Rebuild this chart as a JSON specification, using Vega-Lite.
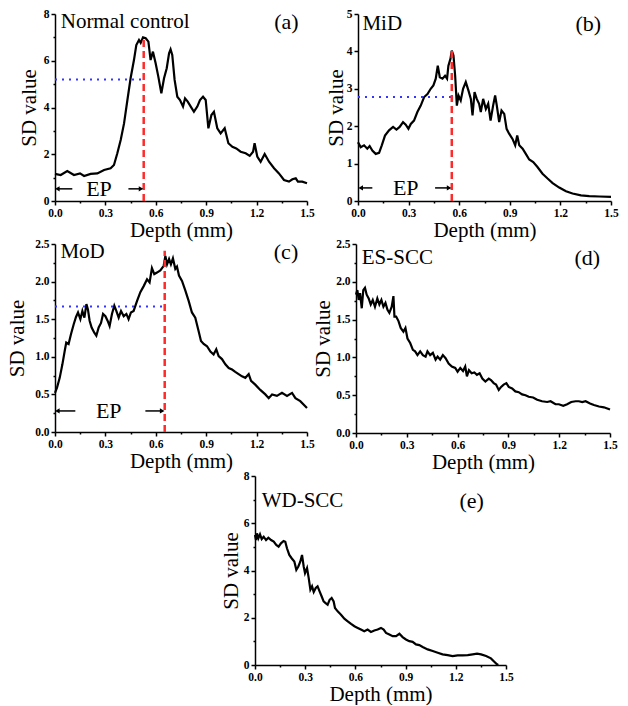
{
  "$schema": "https://vega.github.io/schema/vega-lite/v6.json",
  "padding": {"left": 6, "top": 8, "right": 0, "bottom": 0},
  "background": "white",
  "config": {
    "view": {"stroke": null},
    "font": "Liberation Serif",
    "axis": {
      "labelFont": "Liberation Serif", "labelFontWeight": "bold", "labelFontSize": 11.5, "labelColor": "black",
      "titleFont": "Liberation Serif", "titleFontWeight": "normal", "titleFontSize": 21, "titleColor": "black",
      "domainColor": "black", "domainWidth": 1.5, "tickColor": "black", "tickWidth": 1.5,
      "grid": false, "labelPadding": 2, "labelFlush": false, "labelOverlap": false
    },
    "axisX": {"titlePadding": 1},
    "text": {"font": "Liberation Serif", "fontSize": 21, "color": "black"}
  },
  "datasets": {
    "a": [
      {"x":0,"y":1.16},{"x":0.034,"y":1.11},{"x":0.073,"y":1.28},{"x":0.113,"y":1.11},{"x":0.149,"y":1.18},{"x":0.173,"y":1.07},{"x":0.212,"y":1.16},{"x":0.252,"y":1.18},{"x":0.292,"y":1.33},{"x":0.331,"y":1.4},{"x":0.351,"y":1.54},{"x":0.371,"y":2.04},{"x":0.391,"y":2.61},{"x":0.411,"y":3.32},{"x":0.431,"y":4.32},{"x":0.45,"y":5.25},{"x":0.47,"y":6.03},{"x":0.484,"y":6.67},{"x":0.5,"y":6.89},{"x":0.51,"y":6.77},{"x":0.524,"y":7.0},{"x":0.54,"y":6.96},{"x":0.556,"y":6.82},{"x":0.569,"y":6.03},{"x":0.583,"y":6.39},{"x":0.599,"y":5.89},{"x":0.615,"y":5.32},{"x":0.633,"y":4.61},{"x":0.649,"y":5.25},{"x":0.665,"y":5.68},{"x":0.679,"y":6.32},{"x":0.688,"y":6.49},{"x":0.698,"y":6.25},{"x":0.712,"y":5.18},{"x":0.728,"y":4.46},{"x":0.744,"y":4.32},{"x":0.762,"y":4.04},{"x":0.774,"y":4.39},{"x":0.79,"y":4.25},{"x":0.808,"y":4.04},{"x":0.827,"y":3.82},{"x":0.847,"y":4.04},{"x":0.863,"y":4.32},{"x":0.881,"y":4.46},{"x":0.897,"y":4.32},{"x":0.913,"y":3.11},{"x":0.931,"y":3.68},{"x":0.946,"y":3.82},{"x":0.966,"y":3.11},{"x":0.986,"y":2.89},{"x":1.01,"y":3.11},{"x":1.032,"y":2.47},{"x":1.056,"y":2.32},{"x":1.079,"y":2.25},{"x":1.105,"y":2.11},{"x":1.135,"y":2.04},{"x":1.159,"y":1.93},{"x":1.179,"y":2.11},{"x":1.188,"y":2.47},{"x":1.204,"y":1.9},{"x":1.224,"y":1.68},{"x":1.248,"y":2.01},{"x":1.274,"y":1.68},{"x":1.304,"y":1.4},{"x":1.333,"y":1.18},{"x":1.363,"y":0.9},{"x":1.393,"y":0.83},{"x":1.413,"y":0.93},{"x":1.433,"y":0.97},{"x":1.446,"y":0.83},{"x":1.472,"y":0.83},{"x":1.5,"y":0.76}
    ],
    "b": [
      {"x":0,"y":1.57},{"x":0.016,"y":1.44},{"x":0.036,"y":1.49},{"x":0.055,"y":1.4},{"x":0.069,"y":1.47},{"x":0.085,"y":1.35},{"x":0.105,"y":1.26},{"x":0.125,"y":1.29},{"x":0.141,"y":1.49},{"x":0.16,"y":1.75},{"x":0.184,"y":1.89},{"x":0.208,"y":1.98},{"x":0.228,"y":1.91},{"x":0.247,"y":1.98},{"x":0.267,"y":2.11},{"x":0.283,"y":2.04},{"x":0.299,"y":1.93},{"x":0.313,"y":2.06},{"x":0.332,"y":2.15},{"x":0.352,"y":2.38},{"x":0.372,"y":2.55},{"x":0.392,"y":2.78},{"x":0.412,"y":2.86},{"x":0.431,"y":3.0},{"x":0.447,"y":3.09},{"x":0.461,"y":3.27},{"x":0.473,"y":3.62},{"x":0.485,"y":3.31},{"x":0.501,"y":3.27},{"x":0.516,"y":3.35},{"x":0.528,"y":3.27},{"x":0.536,"y":3.62},{"x":0.548,"y":3.8},{"x":0.556,"y":4.02},{"x":0.566,"y":3.89},{"x":0.576,"y":3.35},{"x":0.586,"y":2.55},{"x":0.596,"y":2.82},{"x":0.609,"y":2.69},{"x":0.623,"y":3.0},{"x":0.639,"y":3.18},{"x":0.655,"y":2.95},{"x":0.669,"y":2.73},{"x":0.679,"y":2.29},{"x":0.691,"y":2.91},{"x":0.704,"y":2.73},{"x":0.718,"y":2.6},{"x":0.728,"y":2.38},{"x":0.742,"y":2.73},{"x":0.758,"y":2.46},{"x":0.772,"y":2.6},{"x":0.786,"y":2.15},{"x":0.801,"y":2.55},{"x":0.813,"y":2.82},{"x":0.823,"y":2.55},{"x":0.837,"y":2.11},{"x":0.851,"y":2.42},{"x":0.867,"y":2.33},{"x":0.881,"y":1.93},{"x":0.896,"y":1.8},{"x":0.916,"y":1.66},{"x":0.932,"y":1.49},{"x":0.944,"y":1.75},{"x":0.956,"y":1.49},{"x":0.976,"y":1.4},{"x":0.995,"y":1.26},{"x":1.015,"y":1.11},{"x":1.039,"y":1.04},{"x":1.064,"y":0.91},{"x":1.094,"y":0.73},{"x":1.124,"y":0.6},{"x":1.154,"y":0.48},{"x":1.193,"y":0.36},{"x":1.233,"y":0.26},{"x":1.272,"y":0.2},{"x":1.322,"y":0.15},{"x":1.371,"y":0.13},{"x":1.431,"y":0.12},{"x":1.5,"y":0.11}
    ],
    "c": [
      {"x":0,"y":0.52},{"x":0.012,"y":0.59},{"x":0.028,"y":0.72},{"x":0.044,"y":0.9},{"x":0.058,"y":1.08},{"x":0.067,"y":1.19},{"x":0.081,"y":1.17},{"x":0.095,"y":1.3},{"x":0.111,"y":1.43},{"x":0.125,"y":1.53},{"x":0.137,"y":1.59},{"x":0.151,"y":1.5},{"x":0.163,"y":1.61},{"x":0.175,"y":1.52},{"x":0.187,"y":1.7},{"x":0.196,"y":1.63},{"x":0.206,"y":1.48},{"x":0.218,"y":1.39},{"x":0.234,"y":1.32},{"x":0.246,"y":1.28},{"x":0.26,"y":1.39},{"x":0.274,"y":1.45},{"x":0.286,"y":1.57},{"x":0.3,"y":1.54},{"x":0.313,"y":1.48},{"x":0.325,"y":1.41},{"x":0.339,"y":1.57},{"x":0.353,"y":1.68},{"x":0.365,"y":1.61},{"x":0.379,"y":1.52},{"x":0.393,"y":1.61},{"x":0.409,"y":1.54},{"x":0.425,"y":1.57},{"x":0.438,"y":1.5},{"x":0.452,"y":1.59},{"x":0.468,"y":1.61},{"x":0.488,"y":1.74},{"x":0.508,"y":1.86},{"x":0.528,"y":1.94},{"x":0.548,"y":2.03},{"x":0.563,"y":1.99},{"x":0.577,"y":2.18},{"x":0.591,"y":2.1},{"x":0.607,"y":2.12},{"x":0.627,"y":2.15},{"x":0.647,"y":2.21},{"x":0.657,"y":2.34},{"x":0.667,"y":2.23},{"x":0.679,"y":2.3},{"x":0.69,"y":2.23},{"x":0.702,"y":2.31},{"x":0.716,"y":2.17},{"x":0.726,"y":2.2},{"x":0.738,"y":2.08},{"x":0.756,"y":2.01},{"x":0.776,"y":1.88},{"x":0.796,"y":1.74},{"x":0.815,"y":1.59},{"x":0.835,"y":1.52},{"x":0.855,"y":1.34},{"x":0.869,"y":1.21},{"x":0.885,"y":1.17},{"x":0.905,"y":1.14},{"x":0.925,"y":1.07},{"x":0.944,"y":1.03},{"x":0.96,"y":1.1},{"x":0.974,"y":1.01},{"x":0.994,"y":0.97},{"x":1.014,"y":0.9},{"x":1.034,"y":0.85},{"x":1.054,"y":0.83},{"x":1.073,"y":0.8},{"x":1.093,"y":0.77},{"x":1.113,"y":0.74},{"x":1.133,"y":0.72},{"x":1.153,"y":0.77},{"x":1.167,"y":0.68},{"x":1.192,"y":0.63},{"x":1.222,"y":0.56},{"x":1.252,"y":0.5},{"x":1.272,"y":0.45},{"x":1.292,"y":0.5},{"x":1.321,"y":0.48},{"x":1.351,"y":0.52},{"x":1.381,"y":0.48},{"x":1.411,"y":0.52},{"x":1.431,"y":0.45},{"x":1.46,"y":0.41},{"x":1.5,"y":0.32}
    ],
    "d": [
      {"x":0,"y":1.83},{"x":0.008,"y":1.89},{"x":0.016,"y":1.76},{"x":0.024,"y":1.85},{"x":0.034,"y":1.65},{"x":0.043,"y":1.89},{"x":0.053,"y":1.92},{"x":0.063,"y":1.83},{"x":0.075,"y":1.78},{"x":0.087,"y":1.7},{"x":0.099,"y":1.76},{"x":0.112,"y":1.67},{"x":0.126,"y":1.78},{"x":0.138,"y":1.7},{"x":0.15,"y":1.76},{"x":0.162,"y":1.67},{"x":0.174,"y":1.72},{"x":0.186,"y":1.63},{"x":0.197,"y":1.59},{"x":0.211,"y":1.67},{"x":0.221,"y":1.81},{"x":0.227,"y":1.54},{"x":0.237,"y":1.54},{"x":0.251,"y":1.48},{"x":0.264,"y":1.39},{"x":0.28,"y":1.34},{"x":0.292,"y":1.39},{"x":0.304,"y":1.25},{"x":0.32,"y":1.19},{"x":0.336,"y":1.1},{"x":0.349,"y":1.08},{"x":0.363,"y":1.03},{"x":0.379,"y":1.08},{"x":0.395,"y":1.03},{"x":0.411,"y":1.01},{"x":0.422,"y":1.08},{"x":0.438,"y":1.03},{"x":0.454,"y":1.06},{"x":0.47,"y":0.97},{"x":0.482,"y":1.01},{"x":0.497,"y":0.97},{"x":0.513,"y":1.03},{"x":0.529,"y":0.99},{"x":0.547,"y":0.92},{"x":0.566,"y":0.88},{"x":0.586,"y":0.86},{"x":0.6,"y":0.81},{"x":0.616,"y":0.86},{"x":0.632,"y":0.82},{"x":0.645,"y":0.88},{"x":0.655,"y":0.75},{"x":0.667,"y":0.83},{"x":0.683,"y":0.79},{"x":0.699,"y":0.8},{"x":0.714,"y":0.77},{"x":0.73,"y":0.79},{"x":0.746,"y":0.72},{"x":0.764,"y":0.68},{"x":0.784,"y":0.72},{"x":0.797,"y":0.7},{"x":0.813,"y":0.66},{"x":0.827,"y":0.64},{"x":0.843,"y":0.57},{"x":0.857,"y":0.61},{"x":0.872,"y":0.64},{"x":0.888,"y":0.66},{"x":0.902,"y":0.61},{"x":0.922,"y":0.59},{"x":0.941,"y":0.55},{"x":0.961,"y":0.54},{"x":0.981,"y":0.51},{"x":1.001,"y":0.5},{"x":1.02,"y":0.48},{"x":1.046,"y":0.47},{"x":1.07,"y":0.44},{"x":1.099,"y":0.42},{"x":1.129,"y":0.41},{"x":1.149,"y":0.42},{"x":1.178,"y":0.38},{"x":1.198,"y":0.38},{"x":1.224,"y":0.36},{"x":1.247,"y":0.38},{"x":1.271,"y":0.41},{"x":1.297,"y":0.42},{"x":1.316,"y":0.42},{"x":1.336,"y":0.41},{"x":1.356,"y":0.42},{"x":1.382,"y":0.39},{"x":1.405,"y":0.37},{"x":1.435,"y":0.35},{"x":1.464,"y":0.34},{"x":1.5,"y":0.31}
    ],
    "e": [
      {"x":0,"y":5.5},{"x":0.006,"y":5.29},{"x":0.012,"y":5.57},{"x":0.02,"y":5.36},{"x":0.03,"y":5.53},{"x":0.04,"y":5.33},{"x":0.052,"y":5.43},{"x":0.066,"y":5.29},{"x":0.08,"y":5.39},{"x":0.096,"y":5.29},{"x":0.112,"y":5.22},{"x":0.127,"y":5.08},{"x":0.141,"y":5.01},{"x":0.155,"y":5.15},{"x":0.171,"y":5.25},{"x":0.181,"y":5.22},{"x":0.191,"y":4.94},{"x":0.205,"y":4.66},{"x":0.219,"y":4.52},{"x":0.235,"y":4.38},{"x":0.247,"y":4.03},{"x":0.259,"y":4.17},{"x":0.271,"y":4.38},{"x":0.281,"y":4.66},{"x":0.291,"y":4.17},{"x":0.299,"y":3.89},{"x":0.311,"y":4.1},{"x":0.321,"y":3.68},{"x":0.331,"y":3.19},{"x":0.341,"y":3.33},{"x":0.351,"y":3.09},{"x":0.363,"y":3.26},{"x":0.374,"y":3.33},{"x":0.386,"y":3.12},{"x":0.398,"y":2.91},{"x":0.41,"y":2.69},{"x":0.422,"y":2.62},{"x":0.434,"y":2.55},{"x":0.446,"y":2.76},{"x":0.458,"y":2.84},{"x":0.47,"y":2.69},{"x":0.478,"y":2.41},{"x":0.494,"y":2.27},{"x":0.514,"y":2.13},{"x":0.534,"y":1.96},{"x":0.554,"y":1.85},{"x":0.574,"y":1.74},{"x":0.594,"y":1.64},{"x":0.614,"y":1.57},{"x":0.633,"y":1.5},{"x":0.653,"y":1.43},{"x":0.673,"y":1.5},{"x":0.693,"y":1.4},{"x":0.713,"y":1.46},{"x":0.733,"y":1.5},{"x":0.753,"y":1.57},{"x":0.769,"y":1.5},{"x":0.783,"y":1.36},{"x":0.803,"y":1.29},{"x":0.823,"y":1.22},{"x":0.843,"y":1.22},{"x":0.863,"y":1.32},{"x":0.882,"y":1.18},{"x":0.902,"y":1.08},{"x":0.922,"y":1.01},{"x":0.942,"y":0.98},{"x":0.962,"y":0.87},{"x":0.982,"y":0.84},{"x":1.002,"y":0.76},{"x":1.032,"y":0.66},{"x":1.062,"y":0.59},{"x":1.092,"y":0.52},{"x":1.121,"y":0.45},{"x":1.151,"y":0.42},{"x":1.181,"y":0.38},{"x":1.211,"y":0.41},{"x":1.241,"y":0.41},{"x":1.271,"y":0.42},{"x":1.301,"y":0.45},{"x":1.327,"y":0.48},{"x":1.351,"y":0.45},{"x":1.381,"y":0.38},{"x":1.41,"y":0.28},{"x":1.43,"y":0.14},{"x":1.446,"y":0.03},{"x":1.454,"y":0.0}
    ]
  },
  "spacing": -3,
  "vconcat": [
    {
      "bounds": "flush",
      "spacing": 51,
      "hconcat": [
        {
          "width": 252, "height": 187,
          "encoding": {
            "x": {"field": "x", "type": "quantitative", "scale": {"domain": [0, 1.5], "nice": false},
              "axis": {"title": "Depth (mm)", "values": [0,0.15,0.3,0.45,0.6,0.75,0.9,1.05,1.2,1.35,1.5], "format": ".1f",
                "labelExpr": "round(datum.value*100) % 30 === 0 ? datum.label : ''",
                "tickSize": {"condition": {"test": "round(datum.value*100) % 30 !== 0", "value": 2}, "value": 4}}},
            "y": {"field": "y", "type": "quantitative", "scale": {"domain": [0, 8], "nice": false},
              "axis": {"title": "SD value", "titleX": -26, "titleBaseline": "middle", "values": [0,1,2,3,4,5,6,7,8], "format": "d",
                "labelExpr": "datum.value % 2 === 0 ? datum.label : ''",
                "tickSize": {"condition": {"test": "datum.value % 2 !== 0", "value": 2}, "value": 4}}}
          },
          "layer": [
            {"data": {"name": "a"}, "mark": {"type": "line", "color": "black", "strokeWidth": 2.2}},
            {"data": {"values": [{"x": 0, "x2": 0.528, "y": 5.2}]}, "mark": {"type": "rule", "color": "#3535ff", "strokeWidth": 2, "strokeDash": [2, 5]}, "encoding": {"x2": {"field": "x2"}}},
            {"data": {"values": [{"x": 0.528, "y": 0, "y2": 7.05}]}, "mark": {"type": "rule", "color": "#ff2a2a", "strokeWidth": 2.5, "strokeDash": [7, 4]}, "encoding": {"y2": {"field": "y2"}}},
            {"data": {"values": [{"x": 0.012, "x2": 0.103, "y": 0.52}, {"x": 0.437, "x2": 0.515, "y": 0.52}]}, "mark": {"type": "rule", "color": "black", "strokeWidth": 1.5}, "encoding": {"x2": {"field": "x2"}}},
            {"data": {"values": [{"x": 0.014, "y": 0.52, "s": "triangle-left"}, {"x": 0.512, "y": 0.52, "s": "triangle-right"}]}, "mark": {"type": "point", "filled": true, "color": "black", "size": 28, "opacity": 1}, "encoding": {"shape": {"field": "s", "type": "nominal", "scale": null}}},
            {"data": {"values": [{"x": 0.262, "y": 0.52, "t": "EP"}, {"x": 1.377, "y": 7.64, "t": "(a)"}]}, "mark": {"type": "text", "fontSize": 22, "align": "center", "baseline": "middle"}, "encoding": {"text": {"field": "t"}}},
            {"data": {"values": [{"x": 0.034, "y": 7.64, "t": "Normal control"}]}, "mark": {"type": "text", "fontSize": 21, "align": "left", "baseline": "middle"}, "encoding": {"text": {"field": "t"}}}
          ]
        },
        {
          "width": 253, "height": 187,
          "encoding": {
            "x": {"field": "x", "type": "quantitative", "scale": {"domain": [0, 1.5], "nice": false},
              "axis": {"title": "Depth (mm)", "values": [0,0.15,0.3,0.45,0.6,0.75,0.9,1.05,1.2,1.35,1.5], "format": ".1f",
                "labelExpr": "round(datum.value*100) % 30 === 0 ? datum.label : ''",
                "tickSize": {"condition": {"test": "round(datum.value*100) % 30 !== 0", "value": 2}, "value": 4}}},
            "y": {"field": "y", "type": "quantitative", "scale": {"domain": [0, 5], "nice": false},
              "axis": {"title": "SD value", "titleX": -22, "titleBaseline": "middle", "values": [0,0.5,1,1.5,2,2.5,3,3.5,4,4.5,5], "format": "d",
                "labelExpr": "datum.value % 1 === 0 ? datum.label : ''",
                "tickSize": {"condition": {"test": "datum.value % 1 !== 0", "value": 2}, "value": 4}}}
          },
          "layer": [
            {"data": {"name": "b"}, "mark": {"type": "line", "color": "black", "strokeWidth": 2.2}},
            {"data": {"values": [{"x": 0, "x2": 0.556, "y": 2.78}]}, "mark": {"type": "rule", "color": "#3535ff", "strokeWidth": 2, "strokeDash": [2, 5]}, "encoding": {"x2": {"field": "x2"}}},
            {"data": {"values": [{"x": 0.556, "y": 0, "y2": 4.07}]}, "mark": {"type": "rule", "color": "#ff2a2a", "strokeWidth": 2.5, "strokeDash": [7, 4]}, "encoding": {"y2": {"field": "y2"}}},
            {"data": {"values": [{"x": 0.014, "x2": 0.085, "y": 0.35}, {"x": 0.457, "x2": 0.543, "y": 0.35}]}, "mark": {"type": "rule", "color": "black", "strokeWidth": 1.5}, "encoding": {"x2": {"field": "x2"}}},
            {"data": {"values": [{"x": 0.016, "y": 0.35, "s": "triangle-left"}, {"x": 0.54, "y": 0.35, "s": "triangle-right"}]}, "mark": {"type": "point", "filled": true, "color": "black", "size": 28, "opacity": 1}, "encoding": {"shape": {"field": "s", "type": "nominal", "scale": null}}},
            {"data": {"values": [{"x": 0.283, "y": 0.35, "t": "EP"}, {"x": 1.365, "y": 4.73, "t": "(b)"}]}, "mark": {"type": "text", "fontSize": 22, "align": "center", "baseline": "middle"}, "encoding": {"text": {"field": "t"}}},
            {"data": {"values": [{"x": 0.026, "y": 4.73, "t": "MiD"}]}, "mark": {"type": "text", "fontSize": 21, "align": "left", "baseline": "middle"}, "encoding": {"text": {"field": "t"}}}
          ]
        }
      ]
    },
    {
      "bounds": "flush",
      "spacing": 49,
      "hconcat": [
        {
          "width": 252, "height": 188,
          "encoding": {
            "x": {"field": "x", "type": "quantitative", "scale": {"domain": [0, 1.5], "nice": false},
              "axis": {"title": "Depth (mm)", "values": [0,0.15,0.3,0.45,0.6,0.75,0.9,1.05,1.2,1.35,1.5], "format": ".1f",
                "labelExpr": "round(datum.value*100) % 30 === 0 ? datum.label : ''",
                "tickSize": {"condition": {"test": "round(datum.value*100) % 30 !== 0", "value": 2}, "value": 4}}},
            "y": {"field": "y", "type": "quantitative", "scale": {"domain": [0, 2.5], "nice": false},
              "axis": {"title": "SD value", "titleX": -38, "titleBaseline": "middle", "values": [0,0.25,0.5,0.75,1,1.25,1.5,1.75,2,2.25,2.5], "format": ".1f",
                "labelExpr": "round(datum.value*100) % 50 === 0 ? datum.label : ''",
                "tickSize": {"condition": {"test": "round(datum.value*100) % 50 !== 0", "value": 2}, "value": 4}}}
          },
          "layer": [
            {"data": {"name": "c"}, "mark": {"type": "line", "color": "black", "strokeWidth": 2.2}},
            {"data": {"values": [{"x": 0, "x2": 0.653, "y": 1.67}]}, "mark": {"type": "rule", "color": "#3535ff", "strokeWidth": 2, "strokeDash": [2, 5]}, "encoding": {"x2": {"field": "x2"}}},
            {"data": {"values": [{"x": 0.653, "y": 0, "y2": 2.41}]}, "mark": {"type": "rule", "color": "#ff2a2a", "strokeWidth": 2.5, "strokeDash": [7, 4]}, "encoding": {"y2": {"field": "y2"}}},
            {"data": {"values": [{"x": 0.012, "x2": 0.121, "y": 0.28}, {"x": 0.538, "x2": 0.64, "y": 0.28}]}, "mark": {"type": "rule", "color": "black", "strokeWidth": 1.5}, "encoding": {"x2": {"field": "x2"}}},
            {"data": {"values": [{"x": 0.014, "y": 0.28, "s": "triangle-left"}, {"x": 0.638, "y": 0.28, "s": "triangle-right"}]}, "mark": {"type": "point", "filled": true, "color": "black", "size": 28, "opacity": 1}, "encoding": {"shape": {"field": "s", "type": "nominal", "scale": null}}},
            {"data": {"values": [{"x": 0.32, "y": 0.28, "t": "EP"}, {"x": 1.375, "y": 2.39, "t": "(c)"}]}, "mark": {"type": "text", "fontSize": 22, "align": "center", "baseline": "middle"}, "encoding": {"text": {"field": "t"}}},
            {"data": {"values": [{"x": 0.032, "y": 2.39, "t": "MoD"}]}, "mark": {"type": "text", "fontSize": 21, "align": "left", "baseline": "middle"}, "encoding": {"text": {"field": "t"}}}
          ]
        },
        {
          "width": 254, "height": 189,
          "encoding": {
            "x": {"field": "x", "type": "quantitative", "scale": {"domain": [0, 1.5], "nice": false},
              "axis": {"title": "Depth (mm)", "values": [0,0.15,0.3,0.45,0.6,0.75,0.9,1.05,1.2,1.35,1.5], "format": ".1f",
                "labelExpr": "round(datum.value*100) % 30 === 0 ? datum.label : ''",
                "tickSize": {"condition": {"test": "round(datum.value*100) % 30 !== 0", "value": 2}, "value": 4}}},
            "y": {"field": "y", "type": "quantitative", "scale": {"domain": [0, 2.5], "nice": false},
              "axis": {"title": "SD value", "titleX": -33, "titleBaseline": "middle", "values": [0,0.25,0.5,0.75,1,1.25,1.5,1.75,2,2.25,2.5], "format": ".1f",
                "labelExpr": "round(datum.value*100) % 50 === 0 ? datum.label : ''",
                "tickSize": {"condition": {"test": "round(datum.value*100) % 50 !== 0", "value": 2}, "value": 4}}}
          },
          "layer": [
            {"data": {"name": "d"}, "mark": {"type": "line", "color": "black", "strokeWidth": 2.2}},
            {"data": {"values": [{"x": 1.366, "y": 2.31, "t": "(d)"}]}, "mark": {"type": "text", "fontSize": 22, "align": "center", "baseline": "middle"}, "encoding": {"text": {"field": "t"}}},
            {"data": {"values": [{"x": 0.034, "y": 2.31, "t": "ES-SCC"}]}, "mark": {"type": "text", "fontSize": 21, "align": "left", "baseline": "middle"}, "encoding": {"text": {"field": "t"}}}
          ]
        }
      ]
    },
    {
      "bounds": "flush",
      "spacing": 0,
      "hconcat": [
        {
          "width": 200, "height": 189,
          "data": {"values": [{"x": 0}]},
          "mark": {"type": "point", "opacity": 0},
          "encoding": {}
        },
        {
          "width": 251, "height": 189,
          "encoding": {
            "x": {"field": "x", "type": "quantitative", "scale": {"domain": [0, 1.5], "nice": false},
              "axis": {"title": "Depth (mm)", "values": [0,0.15,0.3,0.45,0.6,0.75,0.9,1.05,1.2,1.35,1.5], "format": ".1f",
                "labelExpr": "round(datum.value*100) % 30 === 0 ? datum.label : ''",
                "tickSize": {"condition": {"test": "round(datum.value*100) % 30 !== 0", "value": 2}, "value": 4}}},
            "y": {"field": "y", "type": "quantitative", "scale": {"domain": [0, 8], "nice": false},
              "axis": {"title": "SD value", "titleX": -24, "titleBaseline": "middle", "values": [0,1,2,3,4,5,6,7,8], "format": "d",
                "labelExpr": "datum.value % 2 === 0 ? datum.label : ''",
                "tickSize": {"condition": {"test": "datum.value % 2 !== 0", "value": 2}, "value": 4}}}
          },
          "layer": [
            {"data": {"name": "e"}, "mark": {"type": "line", "color": "black", "strokeWidth": 2.2}},
            {"data": {"values": [{"x": 1.295, "y": 6.95, "t": "(e)"}]}, "mark": {"type": "text", "fontSize": 22, "align": "center", "baseline": "middle"}, "encoding": {"text": {"field": "t"}}},
            {"data": {"values": [{"x": 0.04, "y": 6.95, "t": "WD-SCC"}]}, "mark": {"type": "text", "fontSize": 21, "align": "left", "baseline": "middle"}, "encoding": {"text": {"field": "t"}}}
          ]
        }
      ]
    }
  ]
}
